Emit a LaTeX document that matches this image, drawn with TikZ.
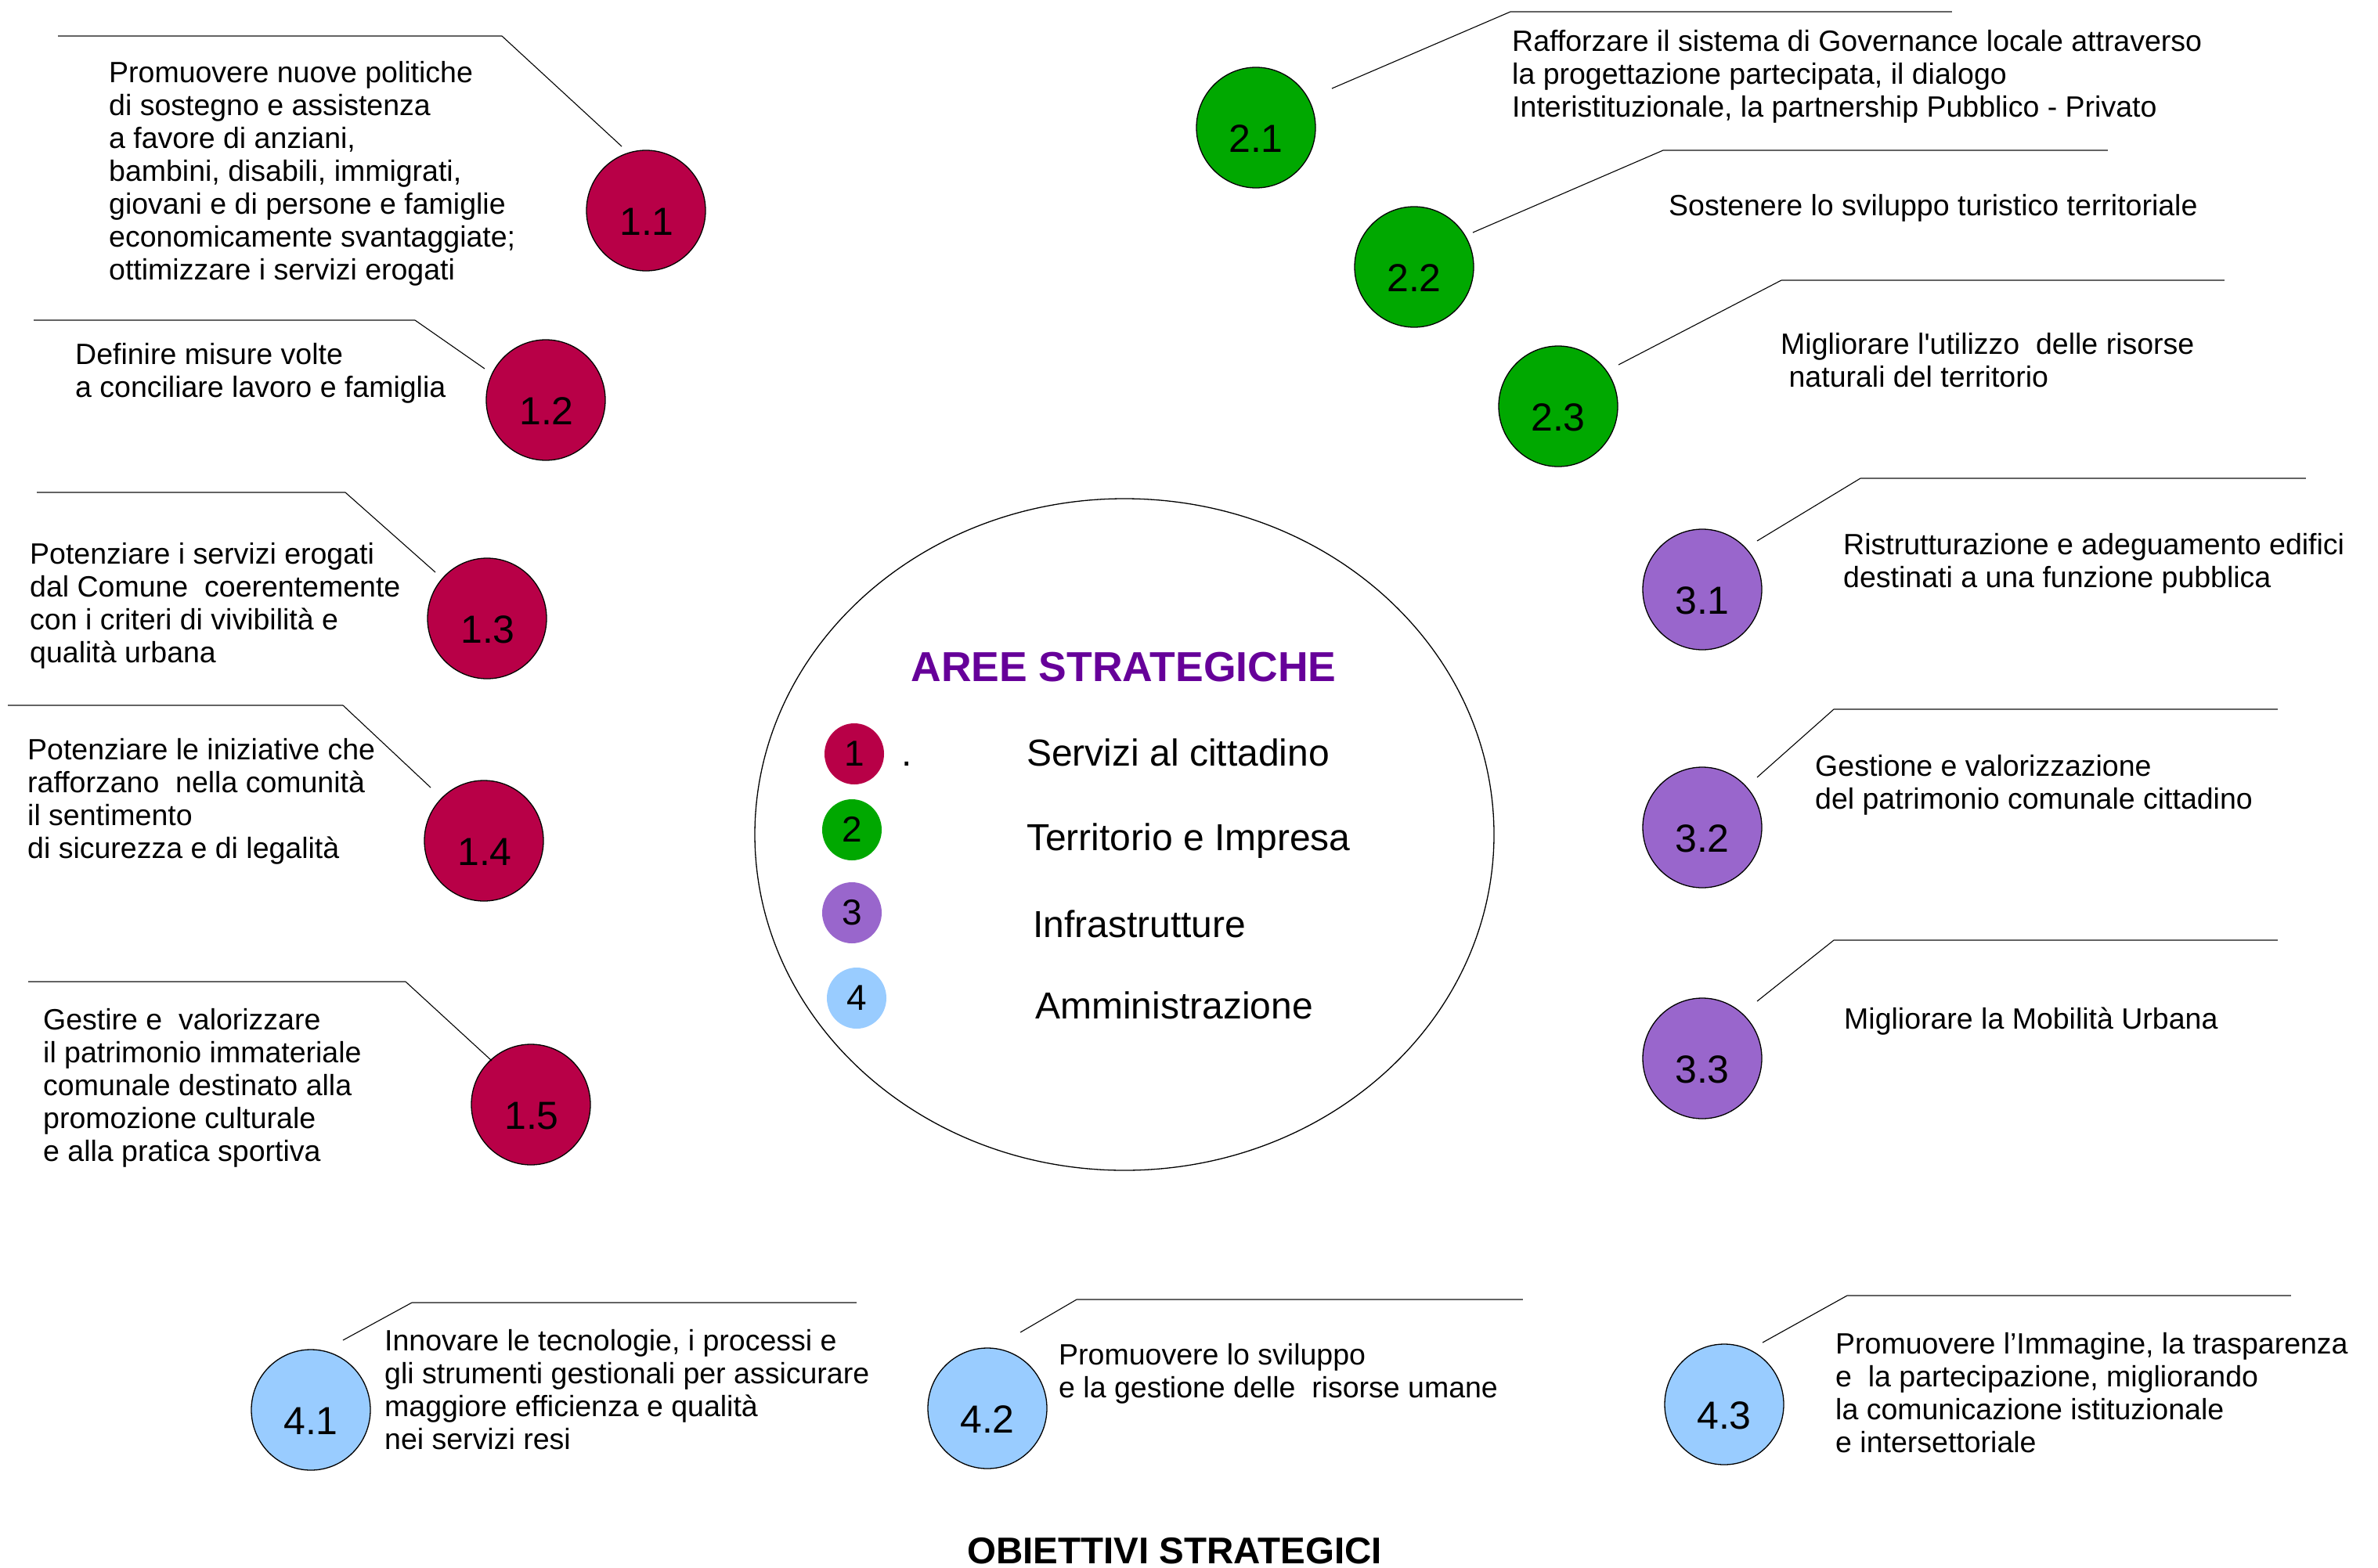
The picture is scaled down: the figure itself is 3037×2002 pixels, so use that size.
\documentclass[tikz,border=0pt]{standalone}
\usepackage{fontspec}
\setmainfont{Liberation Sans}
\usetikzlibrary{shapes.geometric}

\definecolor{crim}{RGB}{184,0,71}
\definecolor{grn}{RGB}{0,168,0}
\definecolor{vio}{RGB}{153,102,204}
\definecolor{sky}{RGB}{153,204,255}
\definecolor{ttl}{RGB}{102,0,153}
\definecolor{leadgray}{RGB}{100,100,100}

% strut that fixes the height of the first line of a text block
\newcommand{\ftop}{\rule{0pt}{31pt}}

\begin{document}
\begin{tikzpicture}[x=1pt,y=-1pt,
  obj/.style={ellipse, draw=black, line width=1.3pt, minimum width=152pt, minimum height=154pt, inner sep=0pt},
  keydot/.style={ellipse, minimum width=76pt, minimum height=78pt, inner sep=0pt},
  num/.style={anchor=base, inner sep=0pt, font=\fontsize{50}{50}\selectfont},
  knum/.style={anchor=base, inner sep=0pt, font=\fontsize{46}{46}\selectfont},
  desc/.style={anchor=north west, inner sep=0pt, align=left, font=\fontsize{37.5}{42}\selectfont},
  area/.style={anchor=base west, inner sep=0pt, font=\fontsize{48}{48}\selectfont},
  hrule/.style={draw=leadgray, line width=2.6pt},
  diag/.style={draw=black, line width=1.1pt},
]
\fill[white] (0,0) rectangle (3037,2002);
\useasboundingbox (0,0) rectangle (3037,2002);

% ---- central area ----
\node[ellipse, draw=black, line width=1.3pt, minimum width=944pt, minimum height=858pt, inner sep=0pt] (core) at (1436,1066) {};
\node[anchor=base, inner sep=0pt, text=ttl, font=\bfseries\fontsize{53.5}{53.5}\selectfont] (title) at (1435,870) {AREE STRATEGICHE};

\node[keydot, fill=crim] (k1) at (1091,963) {};
\node[keydot, fill=grn]  (k2) at (1088,1060) {};
\node[keydot, fill=vio]  (k3) at (1088,1166) {};
\node[keydot, fill=sky]  (k4) at (1094,1275) {};
\node[knum] (kn1) at (1091,978) {1};
\node[knum] (kn2) at (1088,1075) {2};
\node[knum] (kn3) at (1088,1181) {3};
\node[knum] (kn4) at (1094,1290) {4};
\node[area] (dot) at (1151,978) {.};
\node[area] (a1) at (1311,978) {Servizi al cittadino};
\node[area] (a2) at (1311,1086) {Territorio e Impresa};
\node[area] (a3) at (1319,1197) {Infrastrutture};
\node[area] (a4) at (1322,1301) {Amministrazione};

% ---- objective circles ----
\node[obj, fill=crim] (c11) at (825,269) {};
\node[obj, fill=crim] (c12) at (697,511) {};
\node[obj, fill=crim] (c13) at (622,790) {};
\node[obj, fill=crim] (c14) at (618,1074) {};
\node[obj, fill=crim] (c15) at (678,1411) {};
\node[obj, fill=grn] (c21) at (1604,163) {};
\node[obj, fill=grn] (c22) at (1806,341) {};
\node[obj, fill=grn] (c23) at (1990,519) {};
\node[obj, fill=vio] (c31) at (2174,753) {};
\node[obj, fill=vio] (c32) at (2174,1057) {};
\node[obj, fill=vio] (c33) at (2174,1352) {};
\node[obj, fill=sky] (c41) at (397,1801) {};
\node[obj, fill=sky] (c42) at (1261,1799) {};
\node[obj, fill=sky] (c43) at (2202,1794) {};

\node[num] (n11) at (826,300) {1.1};
\node[num] (n12) at (698,542) {1.2};
\node[num] (n13) at (623,821) {1.3};
\node[num] (n14) at (619,1105) {1.4};
\node[num] (n15) at (679,1442) {1.5};
\node[num] (n21) at (1604,194) {2.1};
\node[num] (n22) at (1806,372) {2.2};
\node[num] (n23) at (1990,550) {2.3};
\node[num] (n31) at (2174,784) {3.1};
\node[num] (n32) at (2174,1088) {3.2};
\node[num] (n33) at (2174,1383) {3.3};
\node[num] (n41) at (397,1832) {4.1};
\node[num] (n42) at (1261,1830) {4.2};
\node[num] (n43) at (2202,1825) {4.3};

% ---- leader lines ----
\coordinate (a11) at (74,46);    \coordinate (q11) at (641,46);   \coordinate (s11) at (794,187);
\coordinate (a12) at (43,409);   \coordinate (q12) at (530,409);  \coordinate (s12) at (619,471);
\coordinate (a13) at (47,629);   \coordinate (q13) at (441,629);  \coordinate (s13) at (556,731);
\coordinate (a14) at (10,901);   \coordinate (q14) at (438,901);  \coordinate (s14) at (550,1006);
\coordinate (a15) at (36,1254);  \coordinate (q15) at (518,1254); \coordinate (s15) at (628,1355);
\coordinate (s21) at (1701,113); \coordinate (q21) at (1929,15);  \coordinate (b21) at (2493,15);
\coordinate (s22) at (1881,297); \coordinate (q22) at (2124,192); \coordinate (b22) at (2692,192);
\coordinate (s23) at (2067,466); \coordinate (q23) at (2275,358); \coordinate (b23) at (2841,358);
\coordinate (s31) at (2244,691); \coordinate (q31) at (2376,611); \coordinate (b31) at (2945,611);
\coordinate (s32) at (2244,993); \coordinate (q32) at (2342,906); \coordinate (b32) at (2909,906);
\coordinate (s33) at (2244,1279);\coordinate (q33) at (2342,1201);\coordinate (b33) at (2909,1201);
\coordinate (s41) at (438,1712); \coordinate (q41) at (526,1664); \coordinate (b41) at (1094,1664);
\coordinate (s42) at (1303,1702);\coordinate (q42) at (1375,1660);\coordinate (b42) at (1945,1660);
\coordinate (s43) at (2251,1715);\coordinate (q43) at (2359,1655);\coordinate (b43) at (2926,1655);

\foreach \i in {11,12,13,14,15}{
  \draw[hrule] (a\i) -- (q\i);
  \draw[diag] (q\i) -- (s\i);
}
\foreach \i in {21,22,23,31,32,33,41,42,43}{
  \draw[diag] (s\i) -- (q\i);
  \draw[hrule] (q\i) -- (b\i);
}

% ---- objective texts ----
\node[desc] (t11) at (139,74) {\ftop Promuovere nuove politiche\\di sostegno e assistenza\\a favore di anziani,\\bambini, disabili, immigrati,\\giovani e di persone e famiglie\\economicamente svantaggiate;\\ottimizzare i servizi erogati};
\node[desc] (t12) at (96,434) {\ftop Definire misure volte\\a conciliare lavoro e famiglia};
\node[desc] (t13) at (38,689) {\ftop Potenziare i servizi erogati\\dal Comune~ coerentemente\\con i criteri di vivibilità e\\qualità urbana};
\node[desc] (t14) at (35,939) {\ftop Potenziare le iniziative che\\rafforzano~ nella comunità\\il sentimento\\di sicurezza e di legalità};
\node[desc] (t15) at (55,1284) {\ftop Gestire e~ valorizzare\\il patrimonio immateriale\\comunale destinato alla\\promozione culturale\\e alla pratica sportiva};
\node[desc] (t21) at (1931,34) {\ftop Rafforzare il sistema di Governance locale attraverso\\la progettazione partecipata, il dialogo\\Interistituzionale, la partnership Pubblico - Privato};
\node[desc] (t22) at (2131,244) {\ftop Sostenere lo sviluppo turistico territoriale};
\node[desc] (t23) at (2274,421) {\ftop Migliorare l\textquotesingle utilizzo~ delle risorse\\\hspace*{10.4pt}naturali del territorio};
\node[desc] (t31) at (2354,677) {\ftop Ristrutturazione e adeguamento edifici\\destinati a una funzione pubblica};
\node[desc] (t32) at (2318,960) {\ftop Gestione e valorizzazione\\del patrimonio comunale cittadino};
\node[desc] (t33) at (2355,1283) {\ftop Migliorare la Mobilità Urbana};
\node[desc] (t41) at (491,1694) {\ftop Innovare le tecnologie, i processi e\\gli strumenti gestionali per assicurare\\maggiore efficienza e qualità\\nei servizi resi};
\node[desc] (t42) at (1352,1712) {\ftop Promuovere lo sviluppo\\e la gestione delle~ risorse umane};
\node[desc] (t43) at (2344,1698) {\ftop Promuovere l’Immagine, la trasparenza\\e~ la partecipazione, migliorando\\la comunicazione istituzionale\\e intersettoriale};

\node[anchor=base, inner sep=0pt, font=\bfseries\fontsize{47.5}{47.5}\selectfont] (bottom) at (1500,1997) {OBIETTIVI STRATEGICI};
\end{tikzpicture}
\end{document}
